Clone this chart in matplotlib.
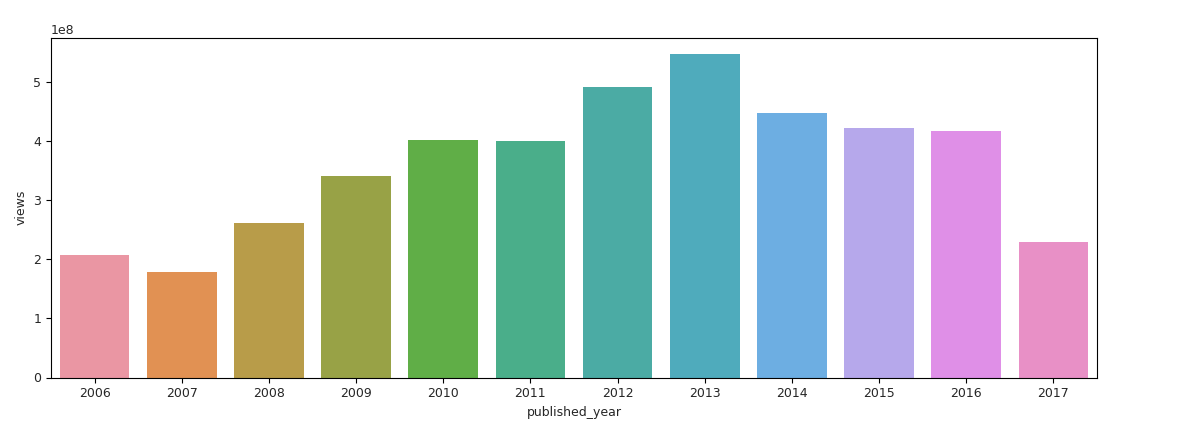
import matplotlib
matplotlib.use("Agg")
import matplotlib.pyplot as plt
import seaborn as sns

# views per published year (in units of 1e8)
years = ['2006', '2007', '2008', '2009', '2010', '2011',
         '2012', '2013', '2014', '2015', '2016', '2017']
views = [2.08, 1.79, 2.62, 3.42, 4.03, 4.01,
         4.92, 5.48, 4.48, 4.23, 4.17, 2.29]
views = [v * 1e8 for v in views]

# old seaborn default for many categories: husl, then desaturated
colors = [sns.desaturate(c, 0.75) for c in sns.husl_palette(len(years), l=0.7)]

fig = plt.figure(figsize=(11.77, 4.25), dpi=100)
ax = fig.add_axes([51 / 1177, 47.5 / 425, 1046 / 1177, 339.5 / 425])

x = range(len(years))
ax.bar(x, views, width=0.8, color=colors)
ax.set_xticks(list(x))
ax.set_xticklabels(years)
ax.set_xlim(-0.5, len(years) - 0.5)

fs = 9
tc = '#262626'
ax.tick_params(labelsize=fs, labelcolor=tc)
ax.yaxis.get_offset_text().set_fontsize(fs)
ax.yaxis.get_offset_text().set_color(tc)
ax.set_xlabel('published_year', fontsize=fs, color=tc)
ax.set_ylabel('views', fontsize=fs, color=tc)

fig.savefig('out.png', dpi=100)
